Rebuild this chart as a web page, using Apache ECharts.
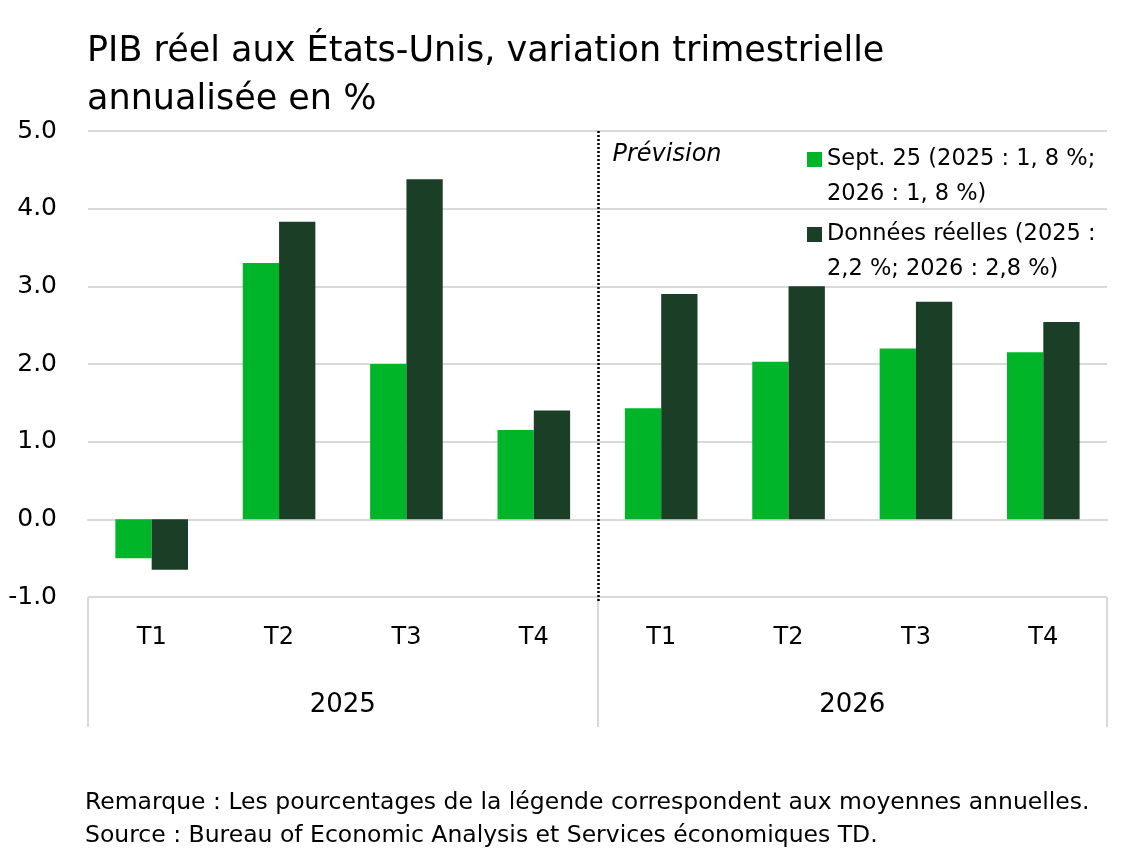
<!DOCTYPE html>
<html>
<head>
<meta charset="utf-8">
<title>PIB réel aux États-Unis</title>
<script src="https://cdn.jsdelivr.net/npm/echarts@6/dist/echarts.min.js"></script>
<style>
  html, body { margin: 0; padding: 0; background: #fff; }
  #main { width: 1139px; height: 850px; }
</style>
</head>
<body>
<div id="main"></div>
<script>
const quarters = ['T1', 'T2', 'T3', 'T4', 'T1', 'T2', 'T3', 'T4'];
const years = ['2025', '2026'];
const sept25 = [-0.5, 3.3, 2.0, 1.15, 1.43, 2.03, 2.2, 2.15];
const reelles = [-0.65, 3.83, 4.38, 1.4, 2.9, 3.0, 2.8, 2.54];
const seriesNames = ['Sept. 25 (2025 : 1, 8 %;\n2026 : 1, 8 %)', 'Données réelles (2025 :\n2,2 %; 2026 : 2,8 %)'];

const FONT = '"DejaVu Sans", "Open Sans", sans-serif';
const GRID = '#d9d9d9';
// square in the top of a tall box, so it lines up with the first text line
const legendIcon = 'path://M0,0H15V15H0Z M0,49.99H0.01V50H0Z';

const chartDom = document.getElementById('main');
const myChart = echarts.init(chartDom);

const option = {
  backgroundColor: '#fff',
  textStyle: { fontFamily: FONT, color: '#000' },
  title: {
    text: 'PIB réel aux États-Unis, variation trimestrielle\nannualisée en %',
    left: 82,
    top: 23,
    textStyle: { fontFamily: FONT, fontSize: 35, fontWeight: 'normal', color: '#000', lineHeight: 48 }
  },
  legend: {
    orient: 'vertical',
    left: 802,
    top: 137,
    itemWidth: 15,
    itemHeight: 50,
    itemGap: 5,
    icon: legendIcon,
    textStyle: { fontFamily: FONT, fontSize: 22.5, lineHeight: 35, color: '#000' },
    data: seriesNames
  },
  grid: { left: 88, right: 32, top: 131, bottom: 253, containLabel: false },
  xAxis: [
    {
      type: 'category',
      data: quarters,
      axisLine: { show: true, lineStyle: { color: GRID, width: 2 } },
      axisTick: { show: false },
      axisLabel: { fontSize: 24, margin: 29, color: '#000', fontFamily: FONT }
    },
    {
      type: 'category',
      data: years,
      position: 'bottom',
      axisLine: { show: false },
      axisTick: { show: true, length: 130, lineStyle: { color: GRID, width: 2 } },
      axisLabel: { fontSize: 26, margin: 95, color: '#000', fontFamily: FONT }
    }
  ],
  yAxis: {
    type: 'value',
    min: -1,
    max: 5,
    interval: 1,
    axisLine: { show: false },
    axisTick: { show: false },
    splitLine: { lineStyle: { color: GRID, width: 2 } },
    axisLabel: {
      fontSize: 25,
      margin: 31,
      color: '#000',
      fontFamily: FONT,
      formatter: v => v.toFixed(1)
    }
  },
  series: [
    {
      name: seriesNames[0],
      type: 'bar',
      data: sept25,
      barGap: '0%',
      barCategoryGap: '43%',
      itemStyle: { color: '#00b527' }
    },
    {
      name: seriesNames[1],
      type: 'bar',
      data: reelles,
      itemStyle: { color: '#1a3f26' }
    }
  ]
};

myChart.setOption(option);

// dotted separator between 2025 and 2026, and footnotes
const x3 = myChart.convertToPixel({ xAxisIndex: 0 }, 3);
const x4 = myChart.convertToPixel({ xAxisIndex: 0 }, 4);
const sepX = Math.round((x3 + x4) / 2) + 0.5;
const yTop = myChart.convertToPixel({ yAxisIndex: 0 }, 5);
const yBot = myChart.convertToPixel({ yAxisIndex: 0 }, -1);

myChart.setOption({
  graphic: [
    {
      type: 'line',
      shape: { x1: sepX, y1: yTop, x2: sepX, y2: yBot + 4 },
      style: { stroke: '#000', lineWidth: 2.5, lineDash: [2, 2] },
      z: 10
    },
    {
      type: 'text',
      left: sepX + 14,
      top: 143,
      style: { text: 'Prévision', fontSize: 24, fontStyle: 'italic', fontFamily: FONT, fill: '#000' }
    },
    {
      type: 'text',
      left: 85,
      top: 786,
      style: {
        text: 'Remarque : Les pourcentages de la légende correspondent aux moyennes annuelles.\nSource : Bureau of Economic Analysis et Services économiques TD.',
        fontSize: 23.5,
        lineHeight: 33,
        fontFamily: FONT,
        fill: '#000'
      }
    }
  ]
});
</script>
</body>
</html>
